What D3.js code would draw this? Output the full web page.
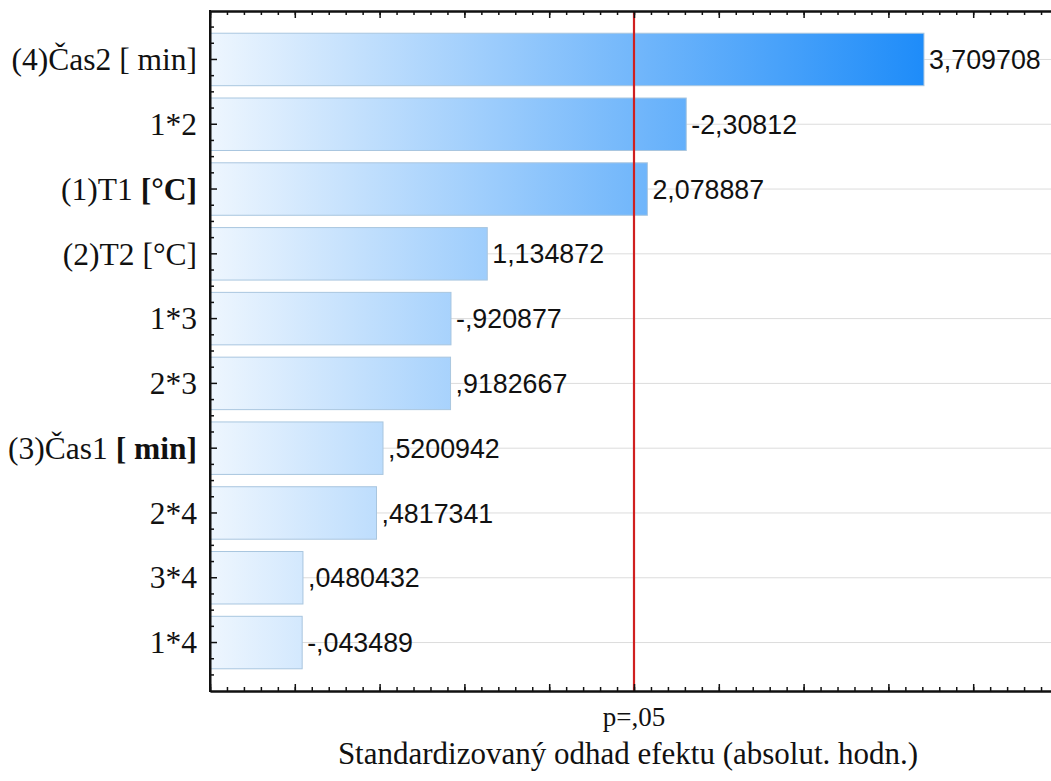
<!DOCTYPE html>
<html>
<head>
<meta charset="utf-8">
<script src="https://cdn.jsdelivr.net/npm/d3@7"></script>
<style>
  html, body { margin: 0; padding: 0; background: #fff; }
  svg { display: block; }
</style>
</head>
<body>
<svg id="chart" width="1051" height="781"></svg>
<script>
// ---- data ----
const categories = ["(4)Čas2 [ min]", "1*2", "(1)T1 [°C]", "(2)T2 [°C]", "1*3", "2*3", "(3)Čas1 [ min]", "2*4", "3*4", "1*4"];
// label parts: [normal text, bold text]
const labelNormal = ["(4)Čas2 [ min]", "1*2", "(1)T1 ", "(2)T2 [°C]", "1*3", "2*3", "(3)Čas1 ", "2*4", "3*4", "1*4"];
const labelBold   = ["", "", "[°C]", "", "", "", "[ min]", "", "", ""];
const effects = [3.709708, -2.30812, 2.078887, 1.134872, -0.920877, 0.9182667, 0.5200942, 0.4817341, 0.0480432, -0.043489];
const criticalValue = 2.0;
const criticalLabel = "p=,05";
const xAxisTitle = "Standardizovaný odhad efektu (absolut. hodn.)";
const xDomain = [-0.5, 4.5];
const majorTicks = [-0.5, 0, 0.5, 1, 1.5, 2, 2.5, 3, 3.5, 4, 4.5];
const minorTicks = d3.range(-5, 46).map(i => i / 10);

(function () {
// ---- layout ----
const svg = d3.select("#chart");
const pL = 210, pT = 11, pB = 691, pR = 1058;

const x = d3.scaleLinear().domain(xDomain).range([pL, pR]);
const y = d3.scaleBand().domain(categories).range([pT, pB]).paddingInner(0.19).paddingOuter(0.343);

const loc = d3.formatLocale({decimal: ",", thousands: " ", grouping: [3], currency: ["", ""], minus: "-"});
const fmt = v => loc.format(".7~g")(v).replace(/^(-?)0,/, "$1,");

// gradient
const defs = svg.append("defs");
const grad = defs.append("linearGradient").attr("id", "barGrad")
  .attr("gradientUnits", "userSpaceOnUse")
  .attr("x1", x(xDomain[0])).attr("x2", x(d3.max(effects, d => Math.abs(d))))
  .attr("y1", 0).attr("y2", 0);
grad.append("stop").attr("offset", "0%").attr("stop-color", "#eef6fe");
grad.append("stop").attr("offset", "100%").attr("stop-color", "#1e8cf9");

// gridlines
svg.append("g").selectAll("line").data(categories).join("line")
  .attr("x1", pL).attr("x2", pR)
  .attr("y1", d => y(d) + y.bandwidth() / 2).attr("y2", d => y(d) + y.bandwidth() / 2)
  .attr("stroke", "#dcdcdc").attr("stroke-width", 1);

// bars
svg.append("g").selectAll("rect").data(effects).join("rect")
  .attr("x", x(xDomain[0]))
  .attr("y", (d, i) => y(categories[i]))
  .attr("width", d => x(Math.abs(d)) - x(xDomain[0]))
  .attr("height", y.bandwidth())
  .attr("fill", "url(#barGrad)")
  .attr("stroke", "#a9c6df").attr("stroke-width", 1);

// value labels
svg.append("g").selectAll("text").data(effects).join("text")
  .attr("x", d => x(Math.abs(d)) + 5)
  .attr("y", (d, i) => y(categories[i]) + y.bandwidth() / 2)
  .attr("dy", "0.36em")
  .attr("font-family", "'Liberation Sans', Arial, sans-serif")
  .attr("font-size", 26.8)
  .attr("fill", "#111")
  .text(d => fmt(d));

// critical line
svg.append("line")
  .attr("x1", x(criticalValue)).attr("x2", x(criticalValue))
  .attr("y1", pT).attr("y2", pB)
  .attr("stroke", "#d02020").attr("stroke-width", 2.2);

// axes
function styleAxis(g) {
  g.selectAll(".domain").attr("stroke", "#111").attr("stroke-width", 2);
  g.selectAll(".tick line").attr("stroke", "#111").attr("stroke-width", 1.5);
  g.selectAll(".tick text").remove();
}
svg.append("g").attr("transform", `translate(0,${pT})`)
  .call(d3.axisTop(x).tickValues(minorTicks).tickSize(-4).tickSizeOuter(0).tickFormat("")).call(styleAxis);
svg.append("g").attr("transform", `translate(0,${pT})`)
  .call(d3.axisTop(x).tickValues(majorTicks).tickSize(-7).tickSizeOuter(0).tickFormat("")).call(styleAxis);
svg.append("g").attr("transform", `translate(0,${pB})`)
  .call(d3.axisBottom(x).tickValues(minorTicks).tickSize(-4).tickSizeOuter(0).tickFormat("")).call(styleAxis);
svg.append("g").attr("transform", `translate(0,${pB})`)
  .call(d3.axisBottom(x).tickValues(majorTicks).tickSize(-7).tickSizeOuter(0).tickFormat("")).call(styleAxis);

// left axis: major ticks at category centres, minor at quarter steps
const yl = svg.append("g").attr("transform", `translate(${pL},0)`)
  .call(d3.axisLeft(y).tickSize(-7).tickSizeOuter(0).tickFormat("")).call(styleAxis);
const minorY = [];
categories.forEach(c => { [-2, -1, 1].forEach(k => minorY.push(y(c) + y.bandwidth() / 2 + k * y.step() / 4)); });
minorY.push(y(categories[categories.length - 1]) + y.bandwidth() / 2 + 2 * y.step() / 4);
yl.append("g").selectAll("line").data(minorY).join("line")
  .attr("x1", 0).attr("x2", 4).attr("y1", d => d).attr("y2", d => d)
  .attr("stroke", "#111").attr("stroke-width", 1.5);
svg.append("line").attr("x1", pL).attr("x2", pL).attr("y1", pT - 1).attr("y2", pB + 1)
  .attr("stroke", "#111").attr("stroke-width", 2);

// category labels
const lab = svg.append("g").selectAll("text").data(categories).join("text")
  .attr("x", pL - 13)
  .attr("y", d => y(d) + y.bandwidth() / 2)
  .attr("dy", "0.34em")
  .attr("text-anchor", "end")
  .attr("font-family", "'Liberation Serif', 'Times New Roman', serif")
  .attr("font-size", 31.5)
  .attr("fill", "#111");
lab.append("tspan").text((d, i) => labelNormal[i]);
lab.append("tspan").attr("font-weight", "bold").text((d, i) => labelBold[i]);

// critical label
svg.append("text")
  .attr("x", x(criticalValue)).attr("y", 726)
  .attr("text-anchor", "middle")
  .attr("font-family", "'Liberation Serif', 'Times New Roman', serif")
  .attr("font-size", 27).attr("fill", "#111")
  .text(criticalLabel);

// axis title
svg.append("text")
  .attr("x", 628).attr("y", 764)
  .attr("text-anchor", "middle")
  .attr("font-family", "'Liberation Serif', 'Times New Roman', serif")
  .attr("font-size", 31).attr("fill", "#111")
  .text(xAxisTitle);
})();
</script>
</body>
</html>
